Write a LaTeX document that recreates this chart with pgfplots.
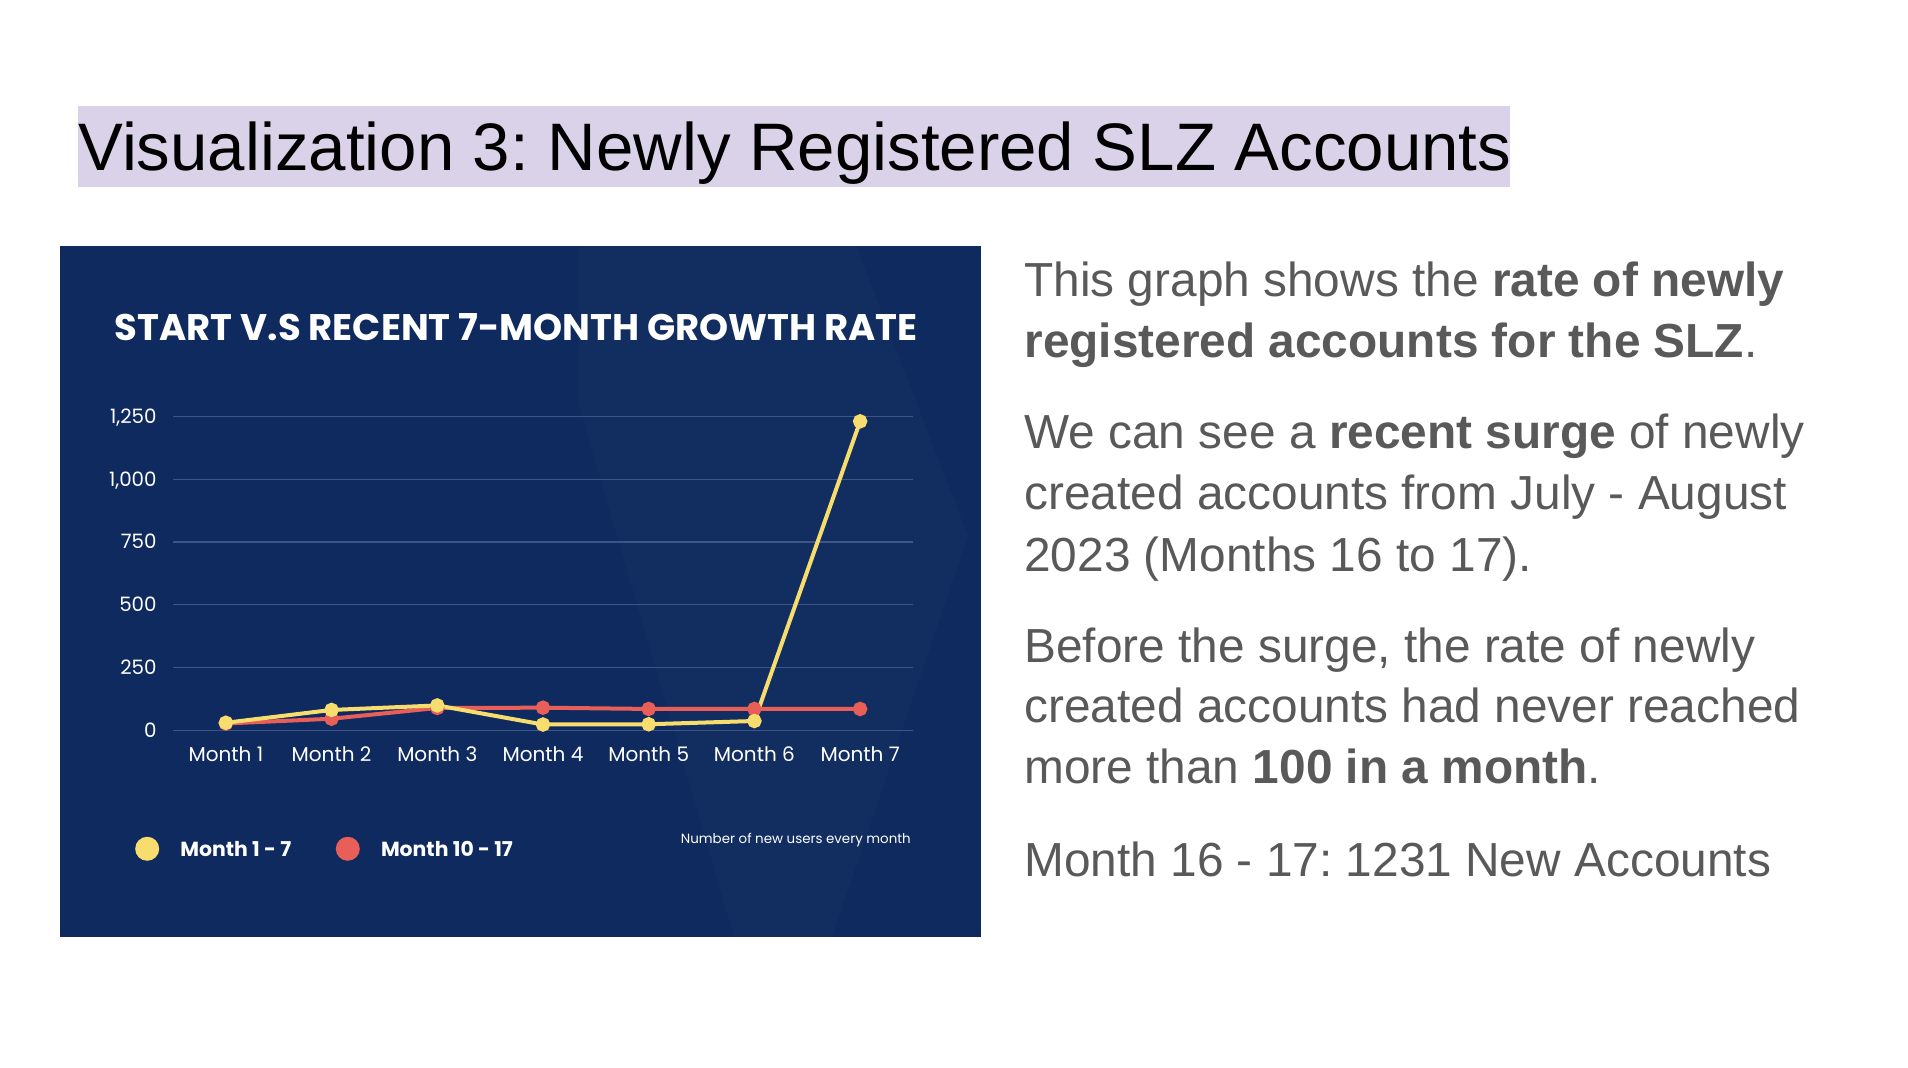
\documentclass[border=0pt]{standalone}
\usepackage{fontspec}
\setmainfont{Liberation Sans}
\newfontfamily\pop{Poppins}
\usepackage{pgfplots}
\pgfplotsset{compat=1.18}
\frenchspacing

\definecolor{navy}{RGB}{14,42,94}
\definecolor{gridc}{RGB}{62,86,135}
\definecolor{ylw}{RGB}{246,221,109}
\definecolor{rd}{RGB}{232,94,88}
\definecolor{txtgray}{RGB}{89,89,89}
\definecolor{lav}{RGB}{217,210,233}

\begin{document}
\begin{tikzpicture}
% page and slide title
\fill[white] (0,0) rectangle (954pt,534pt);
\fill[lav] (39pt,440.5pt) rectangle (755pt,481pt);
\node[anchor=base west, inner sep=0pt, font=\fontsize{33.6}{40}\selectfont]
  at (39pt,448.7pt) {Visualization 3: Newly Registered SLZ Accounts};

% chart panel
\fill[navy] (30pt,65.6pt) rectangle (490.5pt,411pt);
\fill[white, opacity=0.02] (289pt,411pt) -- (428pt,411pt) -- (484pt,266pt)
  -- (416pt,65.6pt) -- (367pt,65.6pt) -- (289pt,333pt) -- cycle;
\node[anchor=base west, inner sep=0pt, text=white,
  font=\pop\bfseries\fontsize{18.5}{21}\selectfont]
  at (57.25pt,363.7pt) {START V.S RECENT 7-MONTH GROWTH RATE};

\begin{axis}[
    at={(86.5pt,168.85pt)}, anchor=south west,
    scale only axis, width=370pt, height=156.85pt,
    xmin=0.5, xmax=7.5, ymin=0, ymax=1250,
    axis line style={draw=none},
    major tick length=0pt,
    xtick={1,2,3,4,5,6,7},
    xticklabels={Month 1,Month 2,Month 3,Month 4,Month 5,Month 6,Month 7},
    ytick={0,250,500,750,1000,1250},
    yticklabels={0,250,500,750,{1,000},{1,250}},
    xticklabel style={font=\pop\fontsize{10}{12}\selectfont, text=white,
      anchor=base, inner sep=0pt, yshift=-15.6pt},
    yticklabel style={font=\pop\fontsize{9.9}{11}\selectfont, text=white,
      anchor=base east, inner sep=0pt, xshift=-8pt, yshift=-3.4pt},
    ymajorgrids,
    grid style={gridc, line width=0.6pt},
    clip=false,
]
\addplot[rd, line width=2pt, mark=*, mark size=2.6pt]
  coordinates {(1,27) (2,46) (3,89) (4,90) (5,85) (6,85) (7,85)};
\addplot[ylw, line width=2pt, mark=*, mark size=2.6pt]
  coordinates {(1,30) (2,81) (3,99) (4,23) (5,24) (6,37) (7,1231)};
\end{axis}

% legend keys and notes
\fill[ylw] (73.6pt,109.6pt) circle (6pt);
\fill[rd] (173.9pt,109.6pt) circle (6pt);
\begin{scope}[every node/.style={anchor=base west, inner sep=0pt, text=white,
  font=\pop\bfseries\fontsize{10.2}{12}\selectfont}]
\node at (90pt,105.8pt) {Month 1 - 7};
\node at (190.3pt,105.8pt) {Month 10 - 17};
\end{scope}
\node[anchor=base east, inner sep=0pt, text=white,
  font=\pop\fontsize{6.7}{8}\selectfont]
  at (455.6pt,112.3pt) {Number of new users every month};

% explanatory text
\begin{scope}[every node/.style={anchor=base west, inner sep=0pt, text=txtgray,
  font=\fontsize{23.9}{28}\selectfont}]
\node at (512pt,385.9pt) {This graph shows the \textbf{rate of newly}};
\node at (512pt,355.3pt) {\textbf{registered accounts for the SLZ}.};
\node at (512pt,309.5pt) {We can see a \textbf{recent surge} of newly};
\node at (512pt,279pt) {created accounts from July - August};
\node at (512pt,248.4pt) {2023 (Months 16 to 17).};
\node at (512pt,202.8pt) {Before the surge, the rate of newly};
\node at (512pt,172.8pt) {created accounts had never reached};
\node at (512pt,142.3pt) {more than \textbf{100 in a month}.};
\node at (512pt,95.9pt) {Month 16 - 17: 1231 New Accounts};
\end{scope}
\end{tikzpicture}
\end{document}
